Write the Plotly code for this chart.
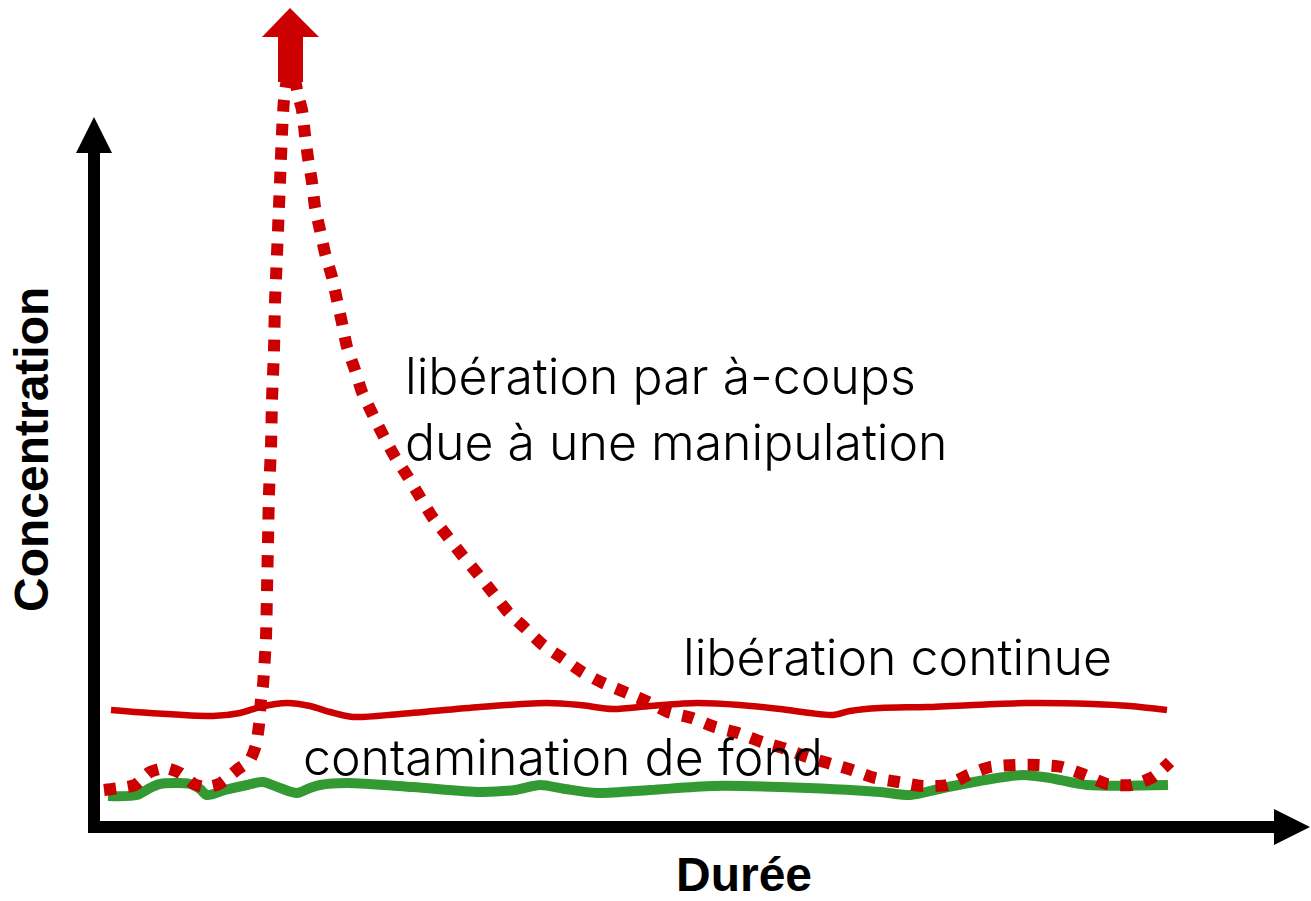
import plotly.graph_objects as go

# Coordinates: t = time (origin at axis crossing), c = concentration
cont_t = [17, 56, 119, 146, 166, 193, 216, 236, 259, 306, 386, 453, 486, 519, 556, 603, 646, 686, 716, 739, 756, 786, 833, 933, 999, 1036, 1073]
cont_c = [117, 114, 111, 114, 120, 124, 121, 115, 110, 113, 120, 124, 122, 118, 121, 124, 122, 118, 114, 112, 116, 119, 120, 124, 123, 121, 117]

bg_t = [14, 43, 56, 66, 96, 106, 113, 131, 153, 169, 186, 203, 216, 226, 253, 319, 386, 421, 446, 471, 503, 556, 619, 686, 786, 816, 849, 891, 929, 956, 993, 1074]
bg_c = [31, 32, 39, 43, 43, 38, 32, 37, 42, 45, 39, 34, 39, 42, 44, 40, 35, 37, 42, 38, 34, 37, 41, 40, 35, 32, 39, 47, 52, 49, 42, 42]

peak_t = [10, 26, 41, 56, 71, 86, 100, 111, 125, 144, 156, 162, 165, 167, 169, 172, 173, 174, 175, 177, 178, 180, 181, 182, 184, 186, 188, 190, 193, 197, 201, 204, 208, 211, 214, 218, 221, 226, 231, 238, 243, 248, 253, 261, 268, 278, 289, 301, 314, 326, 339, 354, 368, 383, 399, 414, 431, 449, 468, 488, 509, 533, 554, 574, 598, 621, 644, 668, 689, 713, 734, 758, 781, 804, 828, 853, 874, 896, 921, 944, 968, 991, 1013, 1037, 1059, 1076]
peak_c = [37, 39, 42, 55, 59, 54, 43, 40, 43, 58, 67, 82, 102, 127, 142, 190, 237, 285, 334, 380, 427, 477, 525, 549, 597, 645, 694, 727, 747, 755, 747, 732, 717, 692, 669, 645, 620, 597, 574, 550, 527, 504, 480, 457, 435, 414, 392, 370, 350, 330, 309, 290, 272, 254, 234, 215, 199, 182, 169, 155, 144, 134, 125, 115, 109, 100, 94, 85, 79, 70, 64, 57, 49, 45, 41, 42, 52, 60, 62, 62, 60, 52, 43, 42, 50, 65]

labels = ["libération par à-coups", "due à une manipulation", "libération continue", "contamination de fond"]
x_title = "Durée"
y_title = "Concentration"

RED = "#CC0000"
GREEN = "#339933"

X0, X1 = -94, 1217
Y0, Y1 = -74, 827

fig = go.Figure()
fig.add_trace(go.Scatter(x=bg_t, y=bg_c, mode="lines",
                         line=dict(color=GREEN, width=10, shape="spline", smoothing=0.8),
                         hoverinfo="skip"))
fig.add_trace(go.Scatter(x=cont_t, y=cont_c, mode="lines",
                         line=dict(color=RED, width=6.5, shape="spline", smoothing=0.8),
                         hoverinfo="skip"))
fig.add_trace(go.Scatter(x=peak_t, y=peak_c, mode="lines",
                         line=dict(color=RED, width=12, dash="dot", shape="spline", smoothing=0.6),
                         hoverinfo="skip"))

# axis arrows (decoration)
ax_len_y = 710
ax_len_x = 1216
head_len = 36
head_half = 18
shaft = 6
shapes = [
    dict(type="rect", x0=-shaft, x1=shaft, y0=-shaft, y1=ax_len_y - head_len,
         fillcolor="black", line=dict(width=0), layer="above"),
    dict(type="path", path=f"M {-head_half} {ax_len_y-head_len} L {head_half} {ax_len_y-head_len} L 0 {ax_len_y} Z",
         fillcolor="black", line=dict(width=0), layer="above"),
    dict(type="rect", x0=-shaft, x1=ax_len_x - head_len, y0=-shaft, y1=shaft,
         fillcolor="black", line=dict(width=0), layer="above"),
    dict(type="path", path=f"M {ax_len_x-head_len} {-head_half} L {ax_len_x-head_len} {head_half} L {ax_len_x} 0 Z",
         fillcolor="black", line=dict(width=0), layer="above"),
]
# red arrow indicating off-scale peak
pk_t = 197
shapes += [
    dict(type="rect", x0=pk_t - 13, x1=pk_t + 12, y0=745, y1=790,
         fillcolor=RED, line=dict(width=0), layer="above"),
    dict(type="path", path=f"M {pk_t-29} 790 L {pk_t+28} 790 L {pk_t-1} 819 Z",
         fillcolor=RED, line=dict(width=0), layer="above"),
]

light = dict(family="Inter", size=50, color="black", weight=300)
bold = dict(family="Liberation Sans", size=48, color="black", weight="bold")
annotations = [
    dict(x=309, y=451, text=labels[0], xanchor="left", yanchor="middle", font=light),
    dict(x=309, y=385, text=labels[1], xanchor="left", yanchor="middle", font=light),
    dict(x=587, y=170, text=labels[2], xanchor="left", yanchor="middle", font=light),
    dict(x=207, y=70, text=labels[3], xanchor="left", yanchor="middle", font=light),
    dict(x=650, y=-47, text="<b>" + x_title + "</b>", xanchor="center", yanchor="middle", font=bold),
    dict(x=-63, y=377, text="<b>" + y_title + "</b>", textangle=-90, xanchor="center", yanchor="middle", font=bold),
]
for a in annotations:
    a.update(showarrow=False, xref="x", yref="y")

fig.update_layout(
    width=1311, height=901,
    margin=dict(l=0, r=0, t=0, b=0),
    plot_bgcolor="white", paper_bgcolor="white",
    showlegend=False,
    xaxis=dict(range=[X0, X1], visible=False, fixedrange=True),
    yaxis=dict(range=[Y0, Y1], visible=False, fixedrange=True),
    shapes=shapes, annotations=annotations,
)
fig.write_html("out.html", config={"displayModeBar": False},
               post_script="document.body.style.margin='0';document.body.style.overflow='hidden';")
